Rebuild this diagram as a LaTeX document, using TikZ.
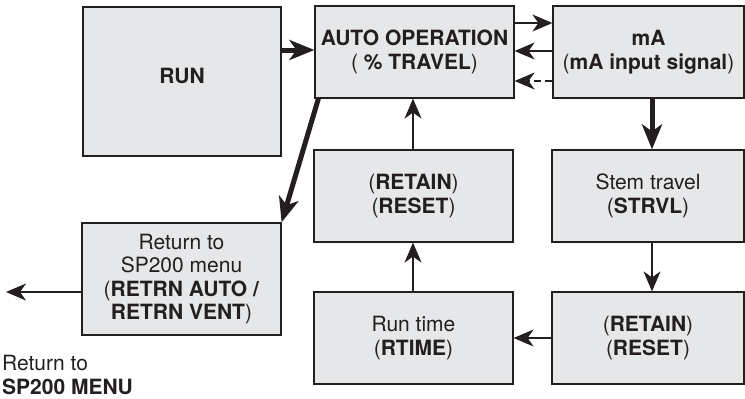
\documentclass[tikz,border=0pt]{standalone}
\usepackage{fontspec}
\setmainfont{TeX Gyre Heros}
\usetikzlibrary{arrows.meta}
\definecolor{boxfill}{RGB}{230,231,233}
\definecolor{ink}{RGB}{35,31,32}
\begin{document}
\begin{tikzpicture}[x=1pt,y=-1pt,
  box/.style={draw=ink, fill=boxfill, line width=1.2pt, align=center, inner sep=0pt,
    font=\fontsize{21}{23.5}\selectfont, text=ink},
  thinarrow/.style={draw=ink, line width=1.2pt, -{Stealth[length=20pt,width=17pt,inset=6pt]}},
  thickarrow/.style={draw=ink, line width=5pt, -{Stealth[length=25pt,width=20pt,inset=7pt]}},
  lbl/.style={font=\fontsize{21}{23.5}\selectfont, text=ink, inner sep=0pt}]
\useasboundingbox (0,0) rectangle (745,399);
\node[box, line width=2.4pt, minimum width=198pt, minimum height=149pt] (run) at (182,81.5) {};
\node[lbl] (runlbl) at (182,76) {\textbf{RUN}};
\node[box, minimum width=199pt, minimum height=92pt] (auto) at (414.5,52) {\textbf{AUTO OPERATION}\\(\textbf{ \% TRAVEL})};
\node[box, minimum width=191pt, minimum height=92pt] (ma) at (648.5,52) {\textbf{mA}\\(\textbf{mA input signal})};
\node[box, minimum width=192pt, minimum height=92pt] (stem) at (648,196) {Stem travel\\(\textbf{STRVL})};
\node[box, minimum width=192pt, minimum height=92pt] (retR) at (648,338) {(\textbf{RETAIN})\\(\textbf{RESET})};
\node[box, minimum width=199pt, minimum height=92pt] (retM) at (413.5,196) {(\textbf{RETAIN})\\(\textbf{RESET})};
\node[box, minimum width=199pt, minimum height=92pt] (rtime) at (413.5,338) {Run time\\(\textbf{RTIME})};
\node[box, minimum width=199pt, minimum height=112pt] (retbox) at (181.5,279) {Return to\\SP200 menu\\(\textbf{RETRN AUTO /}\\\textbf{RETRN VENT})};
\node[lbl, anchor=north west, align=left] (menu) at (2,355) {Return to\\\textbf{SP200 MENU}};
\coordinate (exit) at (6,292);
% connectors
\draw[thickarrow] (run.east |- 0,50) -- (auto.west |- 0,50);
\draw[thinarrow] (auto.east |- 0,23) -- (ma.west |- 0,23);
\draw[thinarrow] (ma.west |- 0,51) -- (auto.east |- 0,51);
\draw[thinarrow, dash pattern=on 7pt off 4pt] (ma.west |- 0,81) -- (auto.east |- 0,81);
\draw[thickarrow] (ma.south -| 652,0) -- (stem.north -| 652,0);
\draw[thinarrow] (stem.south -| 652,0) -- (retR.north -| 652,0);
\draw[thinarrow] (retR.west |- 0,338) -- (rtime.east |- 0,338);
\draw[thinarrow] (rtime.north -| 413,0) -- (retM.south -| 413,0);
\draw[thinarrow] (retM.north -| 413,0) -- (auto.south -| 413,0);
\draw[thickarrow] ([xshift=4pt]auto.south west) -- (retbox.north east);
\draw[thinarrow] (retbox.west |- 0,292) -- (exit);
\end{tikzpicture}
\end{document}
